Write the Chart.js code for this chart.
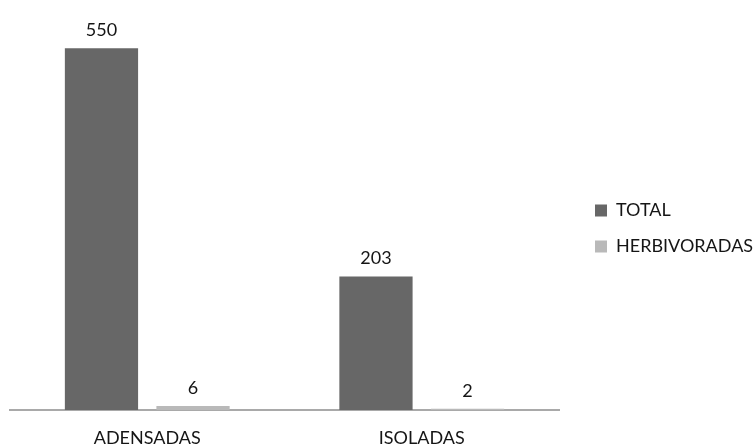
<!DOCTYPE html>
<html>
<head>
<meta charset="utf-8">
<script src="https://cdn.jsdelivr.net/npm/chart.js@4/dist/chart.umd.min.js"></script>
<style>
  html, body { margin: 0; padding: 0; background: #ffffff; }
  #wrap { position: relative; width: 753px; height: 447px; }
</style>
</head>
<body>
<div id="wrap"><canvas id="chart" width="753" height="447"></canvas></div>
<script>
// Plant counts per group
const categories = ['ADENSADAS', 'ISOLADAS'];
const seriesNames = ['TOTAL', 'HERBIVORADAS'];
const totalValues = [550, 203];
const herbivoradasValues = [6, 2];

const FONT = 'Lato, "Liberation Sans", sans-serif';
const FONT_SIZE = 18;
const TEXT_COLOR = '#151515';
const LEGEND_PAD = 18;
const LEGEND_BOX = 12;

// Width of the longest legend entry, so the legend can sit at a fixed x
const measureCtx = document.createElement('canvas').getContext('2d');
measureCtx.font = FONT_SIZE + 'px ' + FONT;
const longestLabel = Math.max(...seriesNames.map(s => measureCtx.measureText(s).width));
const legendLeft = 577;
const legendWidth = LEGEND_PAD + LEGEND_BOX + FONT_SIZE / 2 + longestLabel + 10;
const rightPad = 753 - legendLeft - legendWidth;

// Writes each bar's value above it
const valueLabels = {
  id: 'valueLabels',
  afterDatasetsDraw(chart) {
    const ctx = chart.ctx;
    ctx.save();
    ctx.font = FONT_SIZE + 'px ' + FONT;
    ctx.fillStyle = TEXT_COLOR;
    ctx.textAlign = 'center';
    ctx.textBaseline = 'alphabetic';
    chart.data.datasets.forEach((ds, di) => {
      chart.getDatasetMeta(di).data.forEach((bar, i) => {
        ctx.fillText(String(ds.data[i]), bar.x, bar.y - 12);
      });
    });
    ctx.restore();
  }
};

new Chart(document.getElementById('chart'), {
  type: 'bar',
  data: {
    labels: categories,
    datasets: [
      { label: seriesNames[0], data: totalValues, backgroundColor: '#676767', borderWidth: 0,
        categoryPercentage: 0.667, barPercentage: 0.8 },
      { label: seriesNames[1], data: herbivoradasValues, backgroundColor: '#b9b9b9', borderWidth: 0,
        categoryPercentage: 0.667, barPercentage: 0.8 }
    ]
  },
  options: {
    responsive: false,
    animation: false,
    layout: { padding: { top: 10, bottom: 0, left: 10, right: rightPad } },
    plugins: {
      legend: {
        position: 'right',
        align: 'center',
        labels: {
          boxWidth: LEGEND_BOX,
          boxHeight: LEGEND_BOX,
          padding: LEGEND_PAD,
          color: TEXT_COLOR,
          font: { family: FONT, size: FONT_SIZE }
        }
      },
      tooltip: { enabled: false }
    },
    scales: {
      x: {
        grid: { display: false, drawTicks: false },
        border: { display: true, color: '#a9a9a9', width: 2 },
        ticks: { color: TEXT_COLOR, padding: 17, font: { family: FONT, size: FONT_SIZE } },
        afterFit(scale) { scale.height = 37; }
      },
      y: {
        display: false,
        min: 0,
        max: 608
      },
      gap: {
        // empty spacer between the plot and the legend
        position: 'right',
        display: true,
        grid: { display: false, drawTicks: false },
        border: { display: false },
        ticks: { display: false },
        afterFit(scale) { scale.width = 18; }
      }
    }
  },
  plugins: [valueLabels]
});
</script>
</body>
</html>
